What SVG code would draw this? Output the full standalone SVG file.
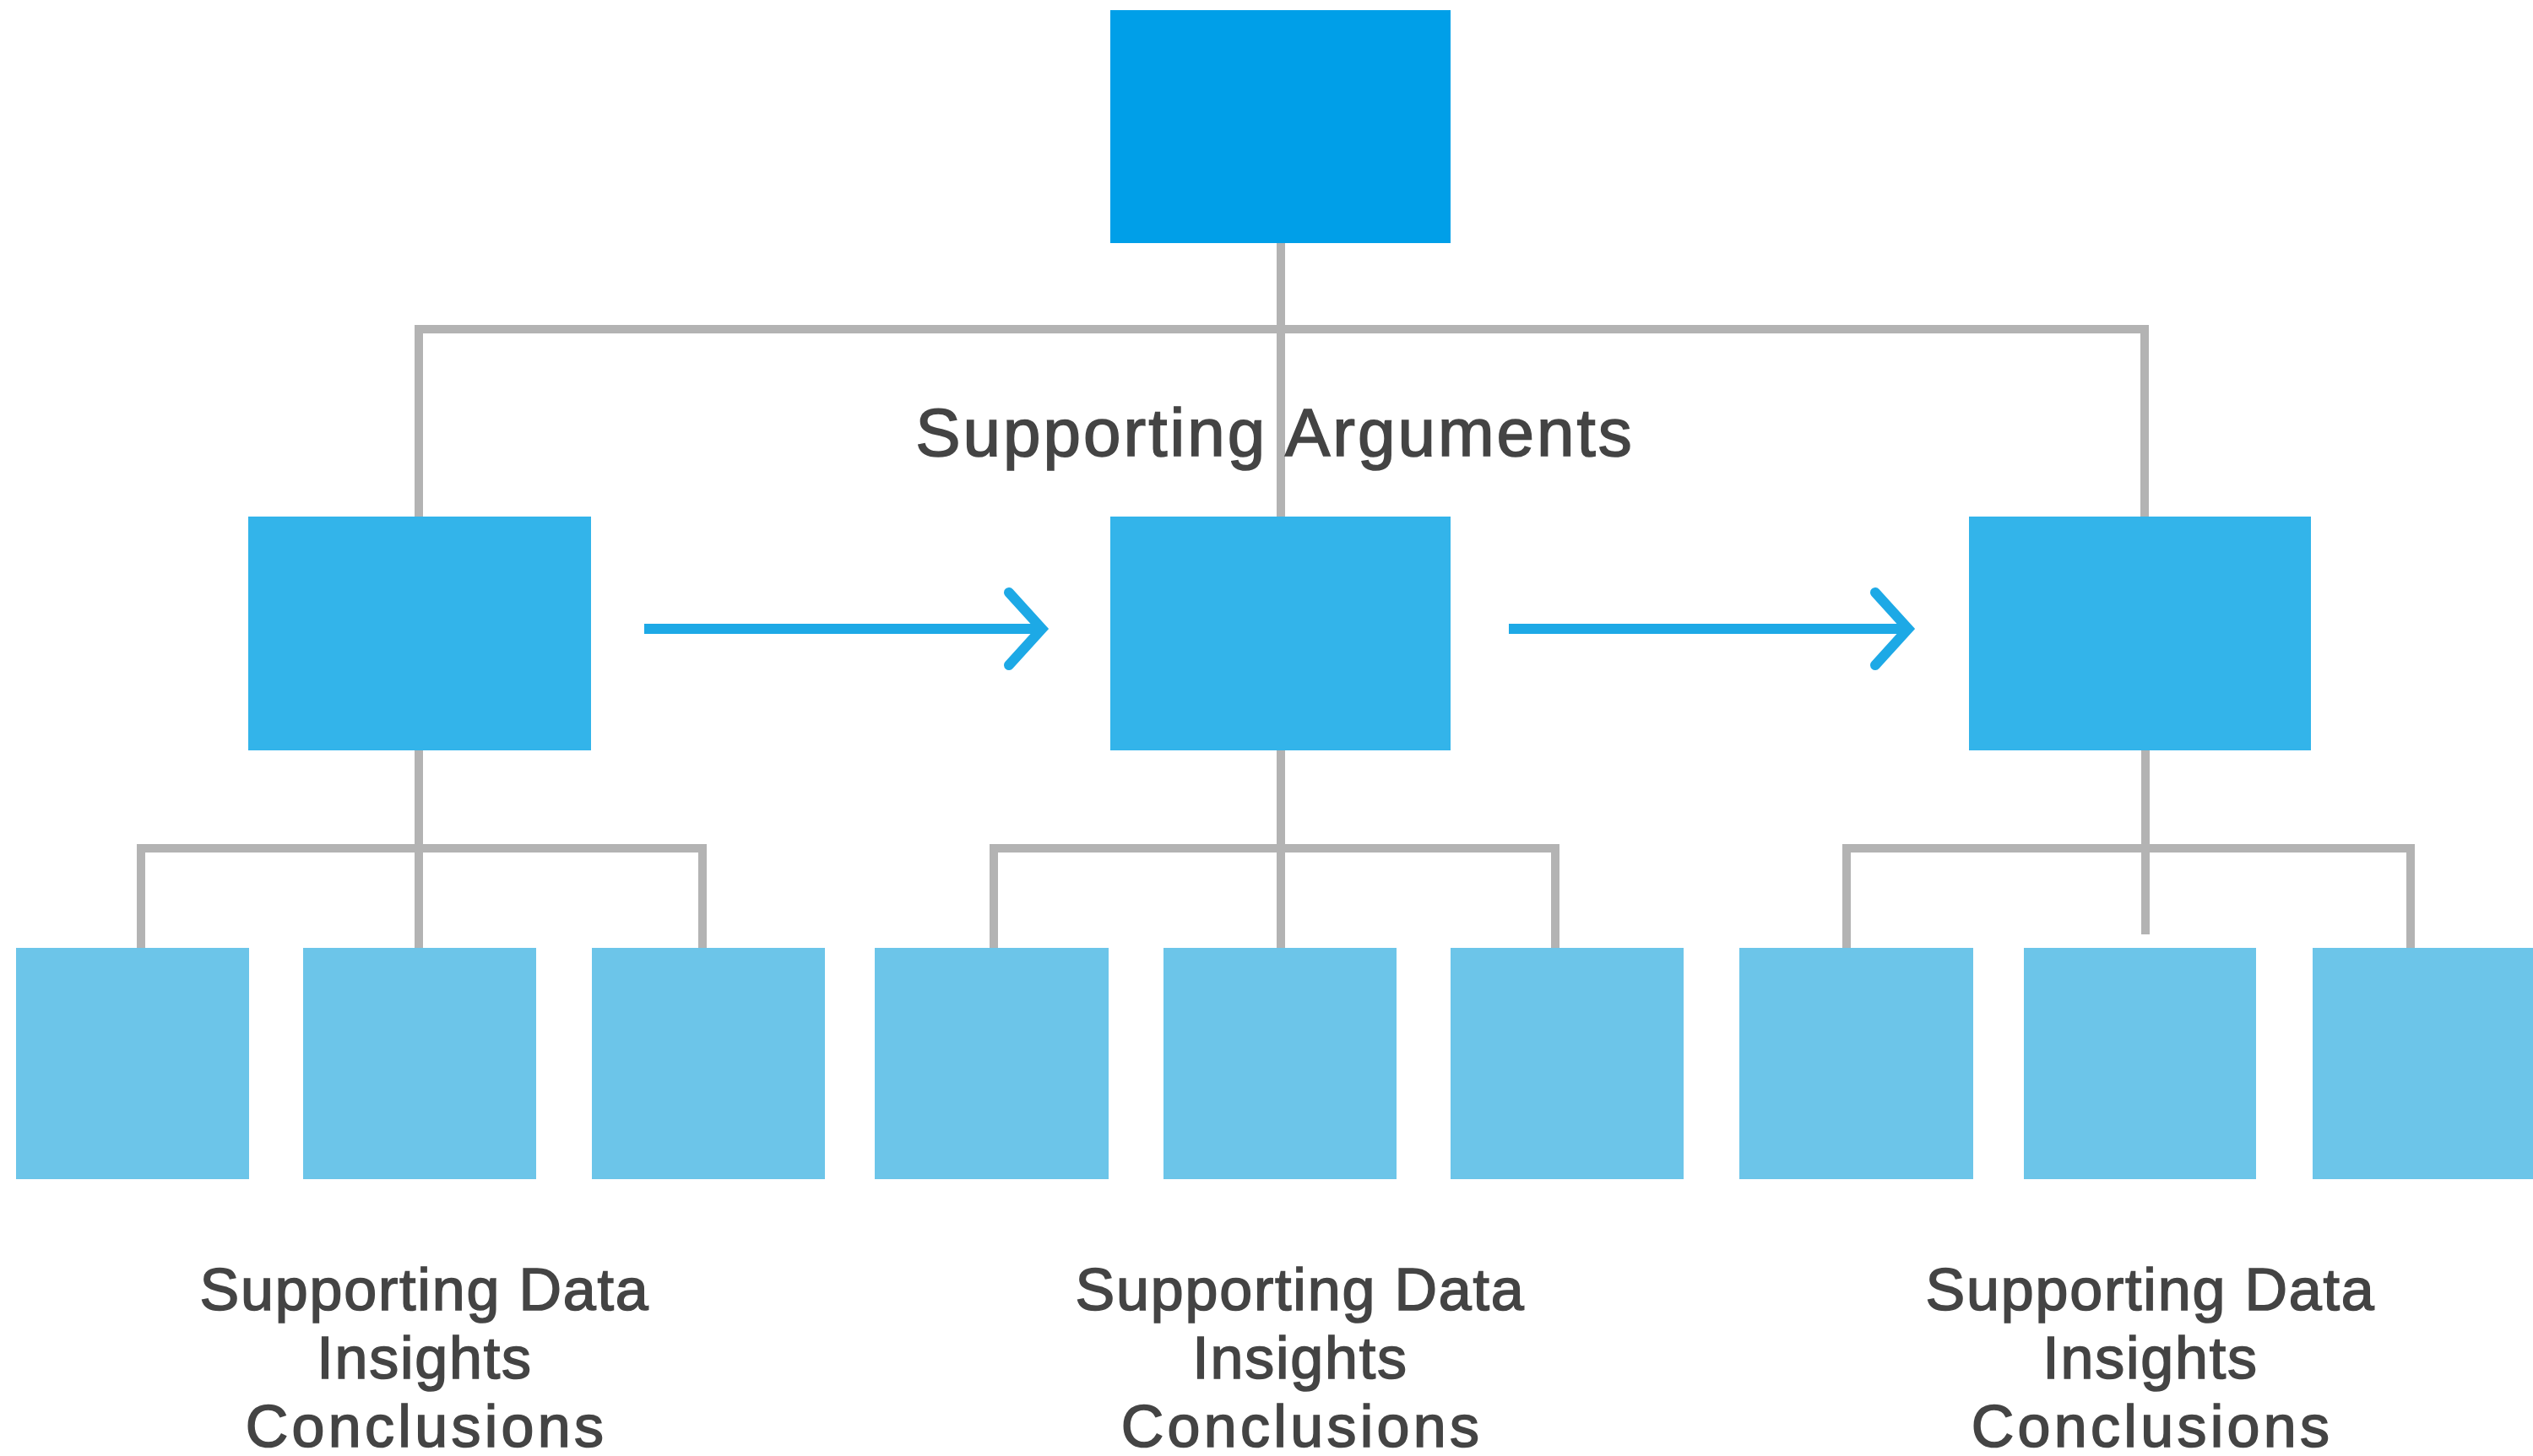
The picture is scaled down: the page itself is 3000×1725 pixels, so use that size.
<svg xmlns="http://www.w3.org/2000/svg" width="3000" height="1725" viewBox="0 0 3000 1725">
<defs>
<style>
.root{fill:#009FE8}
.mid{fill:#33B4EA}
.leaf{fill:#6CC5E9}
.tree{stroke:#B3B3B3;stroke-width:10;fill:none;stroke-linecap:butt}
.flow{stroke:#1DA9E6;stroke-width:12;fill:none;stroke-linecap:butt}
.head{stroke:#1DA9E6;stroke-width:12;fill:none;stroke-linecap:round;stroke-linejoin:miter}
.lbl{font-family:"Liberation Sans",Arial,Helvetica,sans-serif;fill:#444444;stroke:#444444;stroke-width:1.6px;text-anchor:middle}
.big{font-size:80px;letter-spacing:3px}
.small{font-size:70px;letter-spacing:1.8px}
.wide{letter-spacing:4.3px}
</style>
</defs>
<rect width="3000" height="1725" fill="#FFFFFF"/>
<g id="connectors">
<path class="tree" d="M1517 288V612M496 390H2540M496 385V612M2540 385V612"/>
<path class="tree" d="M496 889V1123M167 1005H832M167 1000V1123M832 1000V1123"/>
<path class="tree" d="M1517 889V1123M1177 1005H1842M1177 1000V1123M1842 1000V1123"/>
<path class="tree" d="M2541 889V1107M2187 1005H2855M2187 1000V1123M2855 1000V1123"/>
<path class="flow" d="M763 745H1230"/>
<path class="head" d="M1195 702L1234 745L1195 788"/>
<path class="flow" d="M1787 745H2256"/>
<path class="head" d="M2221 702L2260 745L2221 788"/>
</g>
<g id="root"><rect class="root" x="1315" y="12" width="403" height="276"/></g>
<g id="arg1"><rect class="mid" x="294" y="612" width="406" height="277"/></g>
<g id="arg2"><rect class="mid" x="1315" y="612" width="403" height="277"/></g>
<g id="arg3"><rect class="mid" x="2332" y="612" width="405" height="277"/></g>
<g id="leaf1"><rect class="leaf" x="19" y="1123" width="276" height="274"/></g>
<g id="leaf2"><rect class="leaf" x="359" y="1123" width="276" height="274"/></g>
<g id="leaf3"><rect class="leaf" x="701" y="1123" width="276" height="274"/></g>
<g id="leaf4"><rect class="leaf" x="1036" y="1123" width="277" height="274"/></g>
<g id="leaf5"><rect class="leaf" x="1378" y="1123" width="276" height="274"/></g>
<g id="leaf6"><rect class="leaf" x="1718" y="1123" width="276" height="274"/></g>
<g id="leaf7"><rect class="leaf" x="2060" y="1123" width="277" height="274"/></g>
<g id="leaf8"><rect class="leaf" x="2397" y="1123" width="275" height="274"/></g>
<g id="leaf9"><rect class="leaf" x="2739" y="1123" width="261" height="274"/></g>
<g id="label-arguments"><text class="lbl big" x="1510" y="540">Supporting Arguments</text></g>
<g id="label-group1">
<text class="lbl small" x="503" y="1552">Supporting Data</text>
<text class="lbl small" x="503" y="1633">Insights</text>
<text class="lbl small wide" x="505" y="1714">Conclusions</text>
</g>
<g id="label-group2">
<text class="lbl small" x="1540" y="1552">Supporting Data</text>
<text class="lbl small" x="1540" y="1633">Insights</text>
<text class="lbl small wide" x="1542" y="1714">Conclusions</text>
</g>
<g id="label-group3">
<text class="lbl small" x="2547" y="1552">Supporting Data</text>
<text class="lbl small" x="2547" y="1633">Insights</text>
<text class="lbl small wide" x="2549" y="1714">Conclusions</text>
</g>
</svg>
